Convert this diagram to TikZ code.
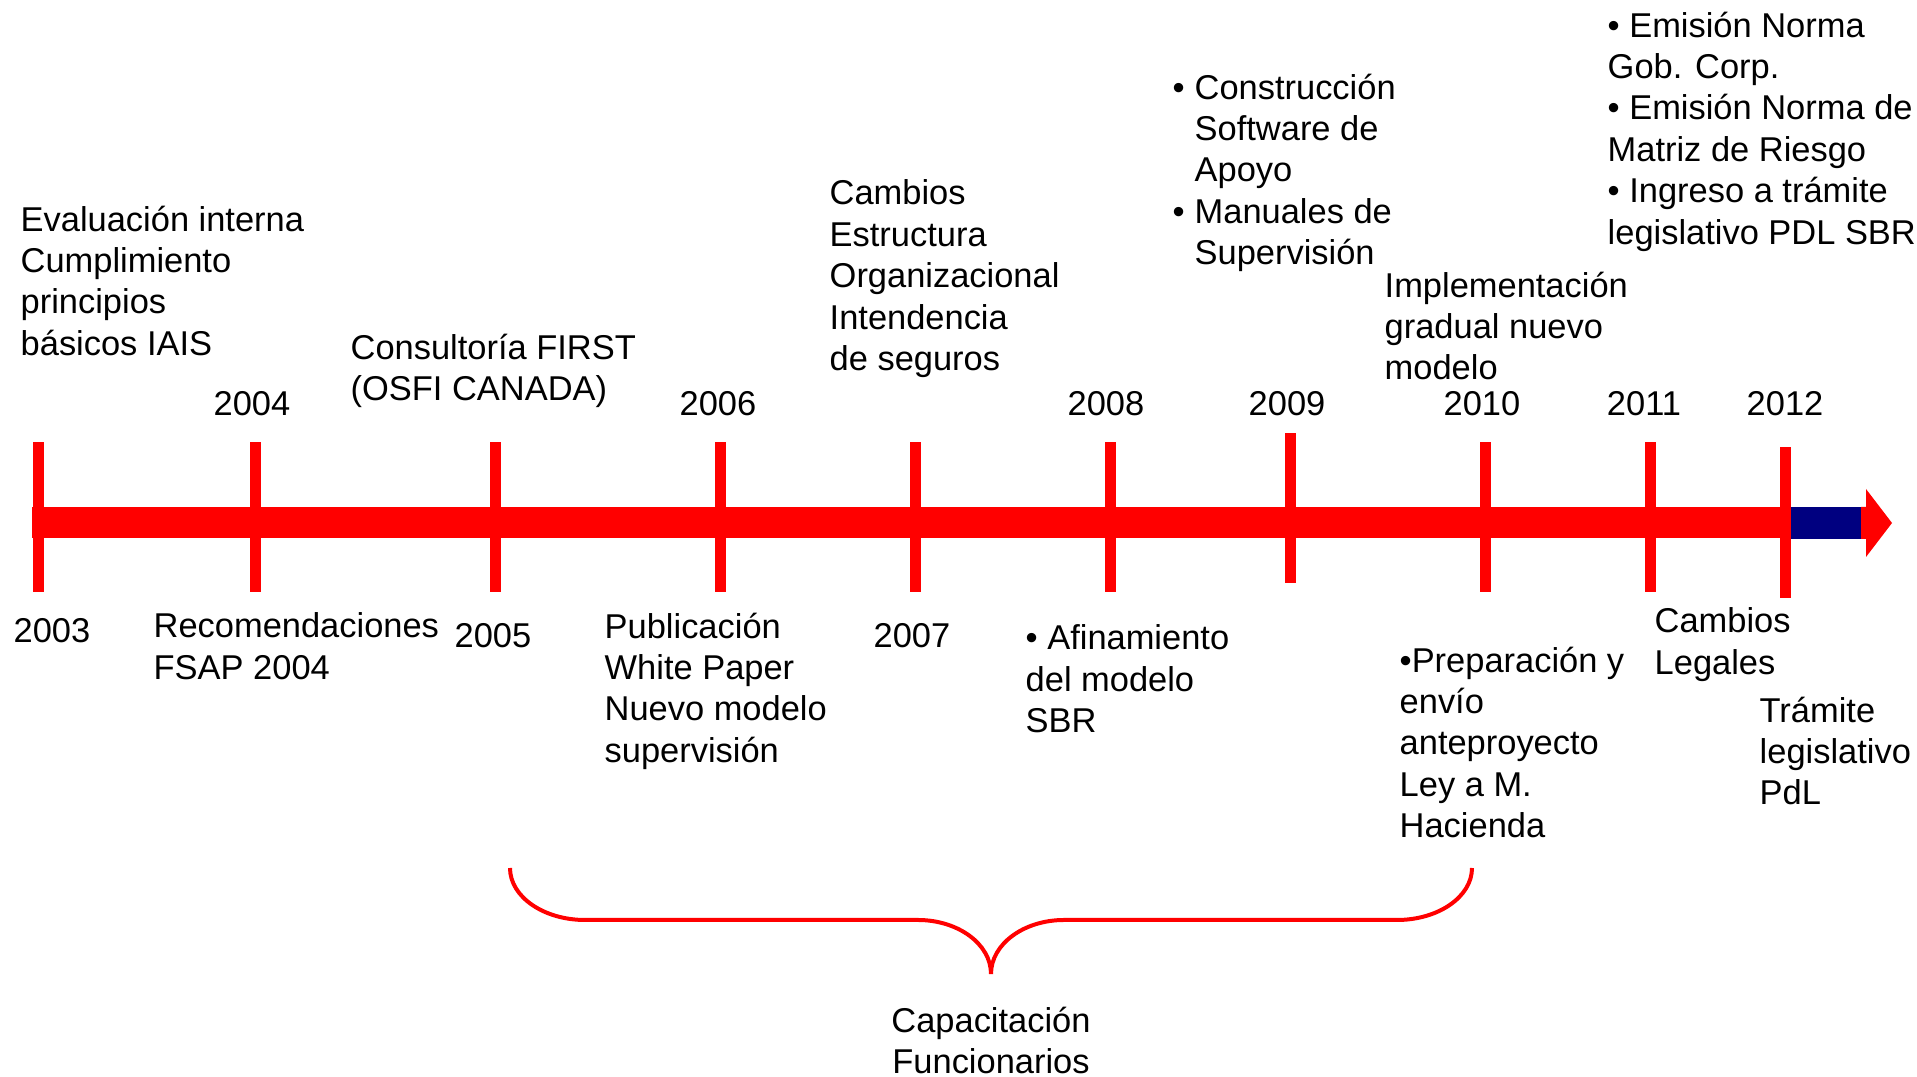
\documentclass[tikz,border=0pt]{standalone}
\usepackage{fontspec}
\setmainfont{Liberation Sans}
\definecolor{barred}{RGB}{255,0,0}
\definecolor{barnavy}{RGB}{0,0,128}
\newcommand{\bul}{\makebox[2.2mm][l]{•}}
\tikzset{
  txt/.style={font=\fontsize{9.8}{11.8}\selectfont, inner sep=0pt, align=left,
    anchor=north west, execute at begin node=\strut},
  yr/.style={txt, anchor=north, align=center},
  yearmark/.style={fill=barred},
  brace line/.style={draw=barred, line width=0.4mm}
}
\begin{document}
\begin{tikzpicture}[x=0.1mm, y=-0.1mm]
\useasboundingbox (0,0) rectangle (1917,1077);

% 1. The time bar with its navy end and arrow head
\fill[barred] (32,507) rectangle (1785,538);
\fill[barnavy] (1791,507) rectangle (1862,539);
\fill[barred] (1861,507) -- (1866,507) -- (1866,489) -- (1892,523) -- (1866,557) -- (1866,539) -- (1861,539) -- cycle;

% 2. Year marks (x, top, bottom)
\foreach \x/\t/\b in {38/442/592, 255/442/592, 495/442/592, 720/442/592,
    915/442/592, 1110/442/592, 1290/433/583, 1485/442/592, 1650/442/592, 1785.5/447/598}
  \fill[yearmark] (\x-5.5,\t) rectangle (\x+5.5,\b);

% 3. Years
\node[yr] (y2003) at (52,613) {2003};
\node[yr] (y2004) at (252,386) {2004};
\node[yr] (y2005) at (493,618) {2005};
\node[yr] (y2006) at (718,386) {2006};
\node[yr] (y2007) at (912,618) {2007};
\node[yr] (y2008) at (1106,386) {2008};
\node[yr] (y2009) at (1287,386) {2009};
\node[yr] (y2010) at (1482,386) {2010};
\node[yr] (y2011) at (1644,386) {2011};
\node[yr] (y2012) at (1785,386) {2012};

% 4. Events above the bar
\node[txt] (evaluacion) at (20,205) {Evaluación interna\\Cumplimiento\\principios\\básicos IAIS};
\node[txt] (first) at (350,333) {Consultoría FIRST\\(OSFI CANADA)};
\node[txt] (cambios) at (829,179) {Cambios\\Estructura\\Organizacional\\Intendencia\\de seguros};
\node[txt] (software) at (1172,73) {\bul Construcción\\\hspace*{2.2mm}Software de\\\hspace*{2.2mm}Apoyo\\\bul Manuales de\\\hspace*{2.2mm}Supervisión};
\node[txt] (implementacion) at (1384,271) {Implementación\\gradual nuevo\\modelo};
\node[txt] (normas) at (1607,11) {• Emisión Norma\\Gob. Corp.\\• Emisión Norma de\\Matriz de Riesgo\\• Ingreso a trámite\\legislativo PDL SBR};

% 5. Events below the bar
\node[txt] (recomendaciones) at (153,612) {Recomendaciones\\FSAP 2004};
\node[txt] (publicacion) at (604,612) {Publicación\\White Paper\\Nuevo modelo\\supervisión};
\node[txt] (afinamiento) at (1025,624) {• Afinamiento\\del modelo\\SBR};
\node[txt] (preparacion) at (1399,646) {•Preparación y\\envío\\anteproyecto\\Ley a M.\\Hacienda};
\node[txt] (legales) at (1654,607) {Cambios\\Legales};
\node[txt] (tramite) at (1759,696) {Trámite\\legislativo\\PdL};

% 6. Brace over the training years
\draw[brace line] (510,868) .. controls (510,897) and (544,920) .. (585,920) -- (918,920)
  .. controls (958,920) and (991,944) .. (991,974)
  .. controls (991,944) and (1024,920) .. (1064,920) -- (1397,920)
  .. controls (1438,920) and (1472,897) .. (1472,868);
\node[yr] (capacitacion) at (991,1006) {Capacitación\\Funcionarios};

\end{tikzpicture}
\end{document}
